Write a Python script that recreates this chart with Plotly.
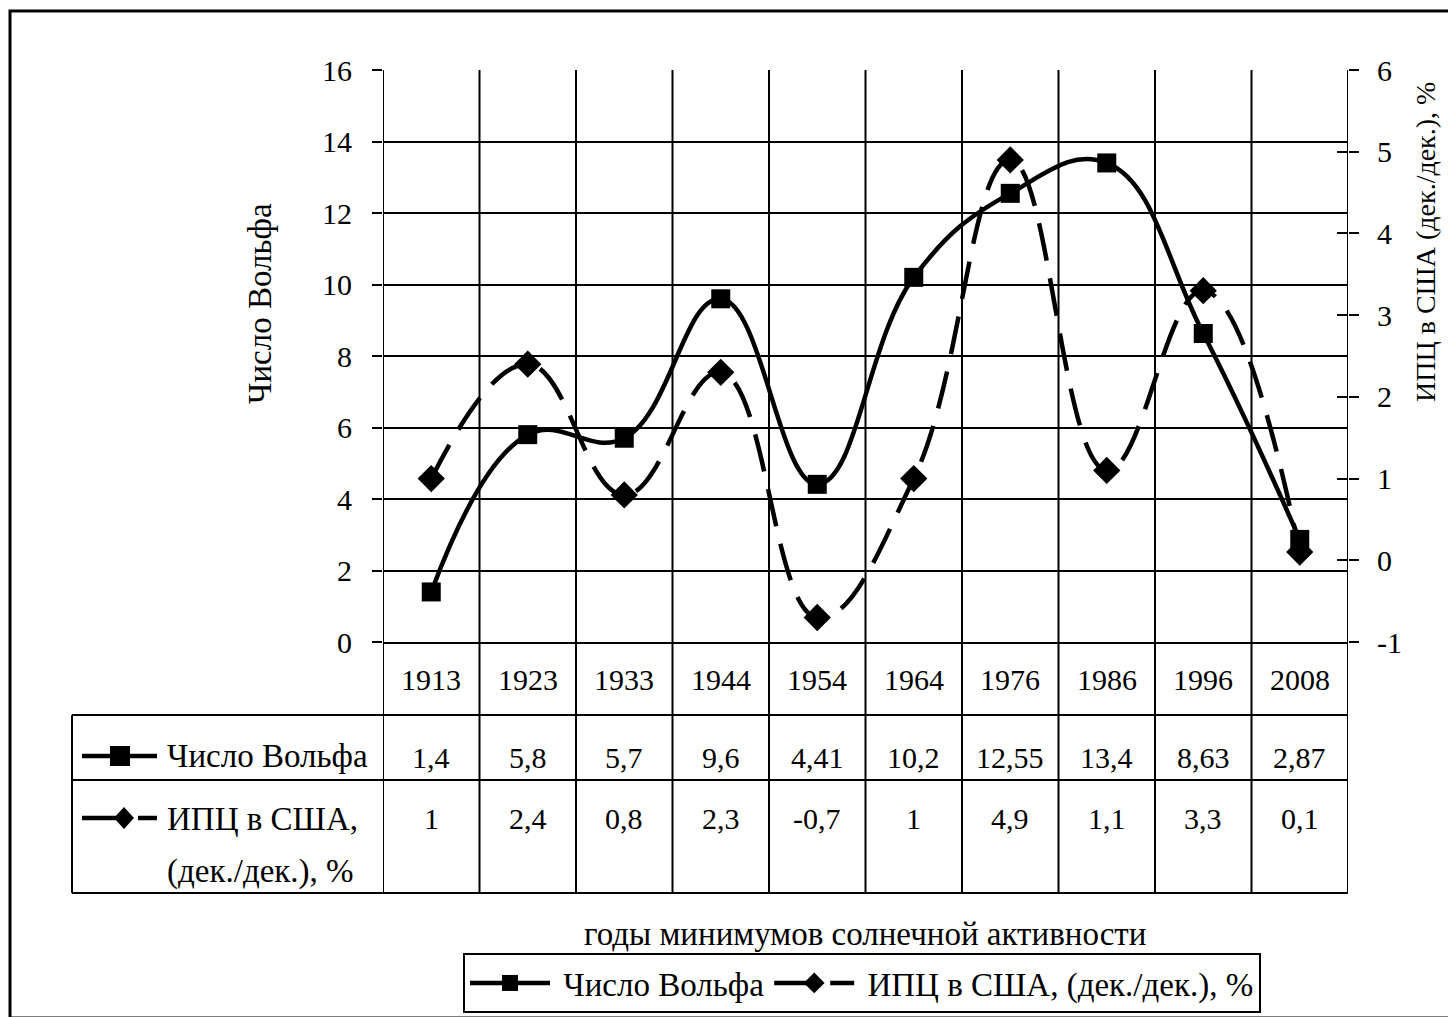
import plotly.graph_objects as go

# data
years = ["1913", "1923", "1933", "1944", "1954", "1964", "1976", "1986", "1996", "2008"]
wolf = [1.4, 5.8, 5.7, 9.6, 4.41, 10.2, 12.55, 13.4, 8.63, 2.87]
cpi = [1, 2.4, 0.8, 2.3, -0.7, 1, 4.9, 1.1, 3.3, 0.1]
y2_ticks = [-1, 0, 1, 2, 3, 4, 5, 6]

wolf_name = "Число Вольфа"
cpi_name = "ИПЦ в США, (дек./дек.), %"
cpi_row_lines = ["ИПЦ в США,", "(дек./дек.), %"]
x_title = "годы минимумов солнечной активности"
y1_title = "Число Вольфа"
y2_title = "ИПЦ в США (дек./дек.), %"

W, H = 1456, 1017
OFF = 8  # page body margin
FONT = "Liberation Serif"


def px(x):
    return (x - OFF) / W


def py(y):
    return 1 - (y - OFF) / H


def fmt(v):
    return ("%g" % v).replace(".", ",")


fig = go.Figure()

fig.add_trace(go.Scatter(
    x=years, y=wolf, name="\u00a0" + wolf_name, mode="lines+markers",
    line=dict(color="black", width=4.5, shape="spline", smoothing=1.2),
    marker=dict(symbol="square", size=19, color="black"),
))
fig.add_trace(go.Scatter(
    x=years, y=cpi, name="\u00a0" + cpi_name, yaxis="y2", mode="lines+markers",
    line=dict(color="black", width=4.5, shape="spline", smoothing=1.2, dash="38px,18px"),
    marker=dict(symbol="diamond", size=21, color="black"),
))
# invisible helper so the inner tick axis is drawn
fig.add_trace(go.Scatter(x=years, y=cpi, yaxis="y3", mode="none",
                         showlegend=False, hoverinfo="skip"))

shapes = []
line_k = dict(color="black", width=2)

# vertical grid / table lines at category boundaries
for i in range(len(years) + 1):
    shapes.append(dict(type="line", xref="x", yref="paper",
                       x0=i - 0.5, x1=i - 0.5, y0=py(893), y1=py(70), line=line_k))
# horizontal table lines
for yy in [715, 780, 893]:
    shapes.append(dict(type="line", xref="paper", yref="paper",
                       x0=px(72), x1=px(1348), y0=py(yy), y1=py(yy), line=line_k))
shapes.append(dict(type="line", xref="paper", yref="paper",
                   x0=px(72), x1=px(72), y0=py(715), y1=py(893), line=line_k))

# legend keys inside the table
shapes.append(dict(type="line", xref="paper", yref="paper",
                   x0=px(82), x1=px(157), y0=py(756), y1=py(756),
                   line=dict(color="black", width=4.5)))
shapes.append(dict(type="rect", xref="paper", yref="paper",
                   x0=px(110), x1=px(130), y0=py(766), y1=py(746),
                   fillcolor="black", line=dict(width=0)))
shapes.append(dict(type="line", xref="paper", yref="paper",
                   x0=px(82), x1=px(118), y0=py(818), y1=py(818),
                   line=dict(color="black", width=4.5)))
dx, dy = 10 / W, 11 / H
cx, cy = px(124), py(818)
shapes.append(dict(type="path", xref="paper", yref="paper",
                   path=f"M {cx - dx} {cy} L {cx} {cy + dy} L {cx + dx} {cy} L {cx} {cy - dy} Z",
                   fillcolor="black", line=dict(width=0)))
shapes.append(dict(type="line", xref="paper", yref="paper",
                   x0=px(138), x1=px(157), y0=py(818), y1=py(818),
                   line=dict(color="black", width=4.5)))

# outer chart border
shapes.append(dict(type="rect", xref="paper", yref="paper",
                   x0=px(10), x1=px(1456), y0=py(1018), y1=py(11),
                   line=dict(color="black", width=3)))

num_font = dict(family=FONT, size=30, color="black")
txt_font = dict(family=FONT, size=33, color="black")
y2t_font = dict(family=FONT, size=28, color="black")


def note(x, y, text, font, xref="paper", xanchor="center", angle=0):
    return dict(x=x, y=y, xref=xref, yref="paper", text=text, showarrow=False,
                xanchor=xanchor, yanchor="middle", textangle=angle, font=font)


ann = []
for i, yr in enumerate(years):
    ann.append(note(i, py(679), yr, num_font, xref="x"))
    ann.append(note(i, py(757), fmt(wolf[i]), num_font, xref="x"))
    ann.append(note(i, py(818), fmt(cpi[i]), num_font, xref="x"))

ann.append(note(px(165), py(756), wolf_name, txt_font, xanchor="left"))
ann.append(note(px(165), py(819), cpi_row_lines[0], txt_font, xanchor="left"))
ann.append(note(px(165), py(871), cpi_row_lines[1], txt_font, xanchor="left"))

ann.append(note(px(865), py(934), x_title, txt_font))
ann.append(note(px(260), py(304), y1_title, txt_font, angle=-90))
ann.append(note(px(1425), py(242), y2_title, y2t_font, angle=-90))

fig.update_layout(
    width=W, height=H,
    margin=dict(l=0, r=0, t=0, b=0, autoexpand=False),
    paper_bgcolor="white", plot_bgcolor="white",
    font=num_font,
    xaxis=dict(type="category", domain=[px(383), px(1348)], range=[-0.5, len(years) - 0.5],
               showticklabels=False, ticks="", showgrid=False, zeroline=False,
               showline=True, linecolor="black", linewidth=2),
    yaxis=dict(domain=[py(642), py(70)], range=[0, 16], dtick=2,
               showgrid=True, gridcolor="black", gridwidth=1.5,
               ticks="outside", ticklen=10, tickwidth=2, tickcolor="black",
               ticklabelstandoff=14, zeroline=False, showline=False,
               tickfont=num_font),
    yaxis2=dict(overlaying="y", side="right", anchor="x", range=[-1, 6],
                tickvals=y2_ticks, ticktext=[fmt(v) for v in y2_ticks],
                showgrid=False, zeroline=False, showline=False,
                ticks="outside", ticklen=10, tickwidth=2, tickcolor="black",
                ticklabelstandoff=12, tickfont=num_font),
    yaxis3=dict(overlaying="y", side="right", anchor="x", range=[-1, 6],
                tickvals=y2_ticks,
                showgrid=False, zeroline=False, showline=False, showticklabels=False,
                ticks="inside", ticklen=11, tickwidth=2, tickcolor="black"),
    legend=dict(orientation="h", x=px(463), y=py(953), xanchor="left", yanchor="top",
                bordercolor="black", borderwidth=2, bgcolor="white",
                font=txt_font, itemwidth=80),
    shapes=shapes,
    annotations=ann,
)

fig.write_html("out.html")
